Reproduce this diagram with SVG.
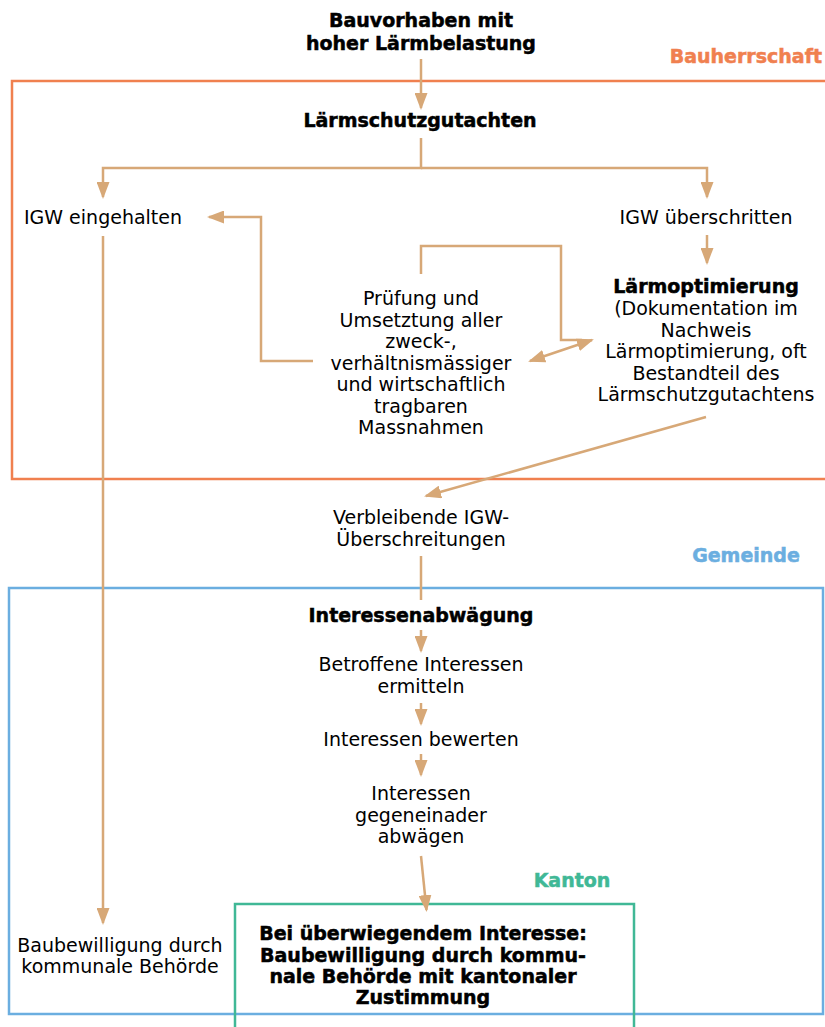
<svg xmlns="http://www.w3.org/2000/svg" width="825" height="1027" viewBox="0 0 825 1027">
<style>
.t{font-family:"DejaVu Sans","Liberation Sans",sans-serif;font-size:19px;fill:#000;text-anchor:middle}
.b{font-weight:bold;stroke:#000;stroke-width:0.5}
.c{fill:none;stroke:#D7A877;stroke-width:2.5}
.zone{fill:none;stroke-width:2.5}
</style>
<defs>
<marker id="ah" markerUnits="userSpaceOnUse" markerWidth="17" markerHeight="13" refX="15" refY="6.5" orient="auto-start-reverse" viewBox="0 0 17 13">
<path d="M0,0 L17,6.5 L0,13 z" fill="#D7A877"/>
</marker>
</defs>

<g id="zones">
<rect x="12" y="81" width="830" height="398" class="zone" stroke="#F0804F"/>
<rect x="9" y="588" width="814" height="426" class="zone" stroke="#6BAEE0"/>
<rect x="235" y="904" width="399" height="140" class="zone" stroke="#40B896"/>
<text class="t b" x="822" y="63" style="text-anchor:end;fill:#F0804F;stroke:#F0804F">Bauherrschaft</text>
<text class="t b" x="746" y="562" style="fill:#6BAEE0;stroke:#6BAEE0">Gemeinde</text>
<text class="t b" x="572" y="887" style="fill:#40B896;stroke:#40B896">Kanton</text>
</g>

<g id="connectors">
<path class="c" d="M421,59 V108" marker-end="url(#ah)"/>
<path class="c" d="M421,138 V168 H103 V197" marker-end="url(#ah)"/>
<path class="c" d="M421,168 H707 V197" marker-end="url(#ah)"/>
<path class="c" d="M707,235 V263" marker-end="url(#ah)"/>
<path class="c" d="M421,274 V246 H561 V340 H582"/>
<path class="c" d="M530,361 L592,340" marker-start="url(#ah)" marker-end="url(#ah)"/>
<path class="c" d="M313,361 H261 V217 H209" marker-end="url(#ah)"/>
<path class="c" d="M103,236 V923" marker-end="url(#ah)"/>
<path class="c" d="M706,417 L426,496" marker-end="url(#ah)"/>
<path class="c" d="M421,556 V600"/>
<path class="c" d="M421,630 V651" marker-end="url(#ah)"/>
<path class="c" d="M421,703 V724" marker-end="url(#ah)"/>
<path class="c" d="M421,754 V775" marker-end="url(#ah)"/>
<path class="c" d="M421,856 L426.5,910" marker-end="url(#ah)"/>
</g>

<g id="n-start">
<text class="t b" x="421" y="27">Bauvorhaben mit</text>
<text class="t b" x="421" y="50">hoher Lärmbelastung</text>
</g>
<g id="n-gutachten">
<text class="t b" x="420" y="127">Lärmschutzgutachten</text>
</g>
<g id="n-eingehalten">
<text class="t" x="103" y="224">IGW eingehalten</text>
</g>
<g id="n-ueberschritten">
<text class="t" x="706" y="224">IGW überschritten</text>
</g>
<g id="n-optimierung">
<text class="t b" x="706" y="293">Lärmoptimierung</text>
<text class="t" x="706" y="315">(Dokumentation im</text>
<text class="t" x="706" y="336.5">Nachweis</text>
<text class="t" x="706" y="358">Lärmoptimierung, oft</text>
<text class="t" x="706" y="379.5">Bestandteil des</text>
<text class="t" x="706" y="401">Lärmschutzgutachtens</text>
</g>
<g id="n-pruefung">
<text class="t" x="421" y="305">Prüfung und</text>
<text class="t" x="421" y="326.5">Umsetztung aller</text>
<text class="t" x="421" y="348">zweck-,</text>
<text class="t" x="421" y="369.5">verhältnismässiger</text>
<text class="t" x="421" y="391">und wirtschaftlich</text>
<text class="t" x="421" y="412.5">tragbaren</text>
<text class="t" x="421" y="434">Massnahmen</text>
</g>
<g id="n-verbleibend">
<text class="t" x="421" y="524">Verbleibende IGW-</text>
<text class="t" x="421" y="545.5">Überschreitungen</text>
</g>
<g id="n-abwaegung">
<text class="t b" x="421" y="622">Interessenabwägung</text>
</g>
<g id="n-ermitteln">
<text class="t" x="421" y="671">Betroffene Interessen</text>
<text class="t" x="421" y="693">ermitteln</text>
</g>
<g id="n-bewerten">
<text class="t" x="421" y="746">Interessen bewerten</text>
</g>
<g id="n-abwaegen">
<text class="t" x="421" y="800">Interessen</text>
<text class="t" x="421" y="821.5">gegeneinader</text>
<text class="t" x="421" y="843">abwägen</text>
</g>
<g id="n-kommunal">
<text class="t" x="120" y="952">Baubewilligung durch</text>
<text class="t" x="120" y="973">kommunale Behörde</text>
</g>
<g id="n-kantonal">
<text class="t b" x="423" y="940">Bei überwiegendem Interesse:</text>
<text class="t b" x="423" y="961.5">Baubewilligung durch kommu-</text>
<text class="t b" x="423" y="983">nale Behörde mit kantonaler</text>
<text class="t b" x="423" y="1004">Zustimmung</text>
</g>
</svg>
